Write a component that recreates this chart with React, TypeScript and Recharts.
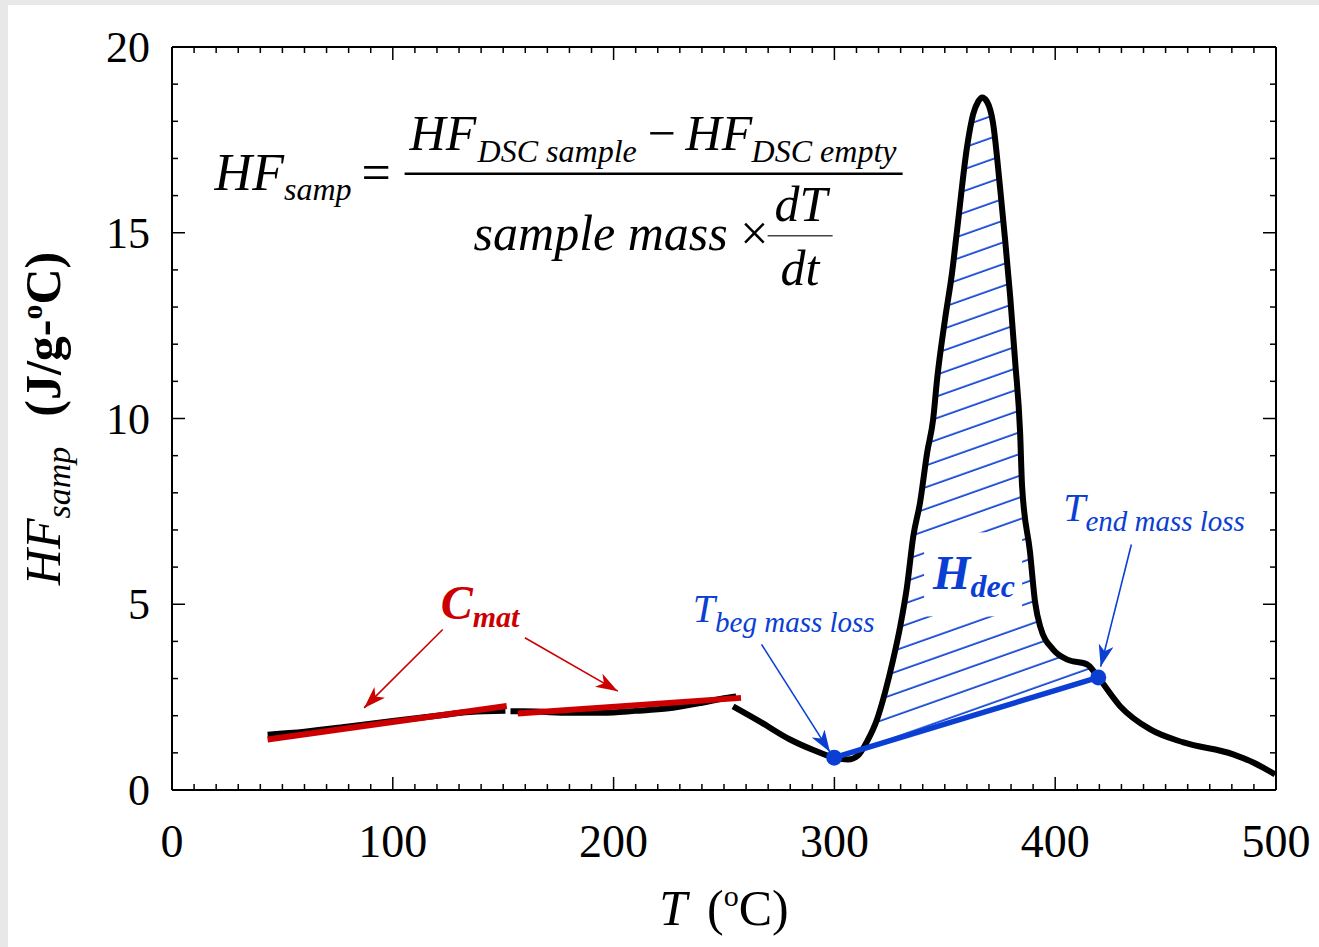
import React from 'react'
import {
  ComposedChart,
  Line,
  Area,
  XAxis,
  YAxis,
  ReferenceLine,
  ReferenceDot,
} from 'recharts'

const BLUE = '#0b3fd4'
const RED = '#cc0000'
const SERIF = '"Liberation Serif", "Times New Roman", serif'

// axis ticks (minor ones; every 100 / every 5 gets a label)
const xTicks = Array.from({ length: 51 }, (_, i) => i * 10)
const yTicks = Array.from({ length: 21 }, (_, i) => i)

// black DSC trace, first piece
const seg1T = [43.3, 60, 80, 100, 120, 135, 151]
const seg1HF = [1.49, 1.57, 1.71, 1.86, 2.0, 2.1, 2.13]

// second piece
const seg2T = [153.3, 165, 180, 195, 210, 225, 240, 250, 255.5]
const seg2HF = [2.12, 2.11, 2.08, 2.08, 2.13, 2.2, 2.35, 2.47, 2.52]

// third piece (decomposition peak)
const seg3T = [
  254.1, 266.3, 279.9, 289.9, 299.9, 306.2, 310.7, 314.8, 319.3, 322.9, 326.6, 329.8,
  332.9, 335.7, 338.8, 342.0, 344.7, 346.5, 350.1, 353.3, 355.6, 360.1, 362.8, 365.1,
  366.9, 369.1, 371.8, 375.1, 377.3, 379.6, 381.9, 384.1, 385.0, 388.6, 390.9, 393.2,
  399.1, 405.5, 414.5, 419.5, 429.5, 443.1, 458.1, 480.6, 489.7, 499.6,
]
const seg3HF = [
  2.25, 1.84, 1.36, 1.09, 0.87, 0.82, 0.93, 1.31, 1.9, 2.62, 3.51, 4.4,
  5.48, 6.82, 7.74, 9.08, 9.97, 11.05, 12.67, 13.93, 15.09, 17.32, 18.18, 18.53,
  18.64, 18.53, 17.97, 16.17, 14.82, 13.29, 11.51, 9.63, 8.18, 6.4, 5.05, 4.4,
  3.78, 3.51, 3.38, 3.03, 2.25, 1.63, 1.28, 0.96, 0.74, 0.42,
]

// red C_mat fit lines
const cmat1T = [43.3, 151.6]
const cmat1HF = [1.36, 2.26]
const cmat2T = [156.6, 257.7]
const cmat2HF = [2.06, 2.48]

// blue baseline between T_beg and T_end
const baseT = [299.9, 419.5]
const baseHF = [0.87, 3.03]

// arrows: [tailT, tailHF, headT, headHF]
const redArrows = [
  [122.6, 4.32, 87.0, 2.21],
  [159.8, 4.1, 201.9, 2.66],
]
const blueArrows = [
  [267.0, 3.92, 298.0, 1.02],
  [434.5, 6.61, 420.6, 3.32],
]

const zip = (t: number[], v: number[]) => t.map((T, i) => ({ T, HF: v[i] }))

const seg1 = zip(seg1T, seg1HF)
const seg2 = zip(seg2T, seg2HF)
const seg3 = zip(seg3T, seg3HF)
const cmat1 = zip(cmat1T, cmat1HF)
const cmat2 = zip(cmat2T, cmat2HF)
const baseline = zip(baseT, baseHF)

const baseAt = (T: number) =>
  baseHF[0] + ((T - baseT[0]) / (baseT[1] - baseT[0])) * (baseHF[1] - baseHF[0])

const hatch = seg3
  .filter((p) => p.T >= baseT[0] && p.T <= baseT[1])
  .map((p) => ({ T: p.T, range: [baseAt(p.T), p.HF] }))

const ids = { xAxisId: 'b', yAxisId: 'l' }

function Formula({ cx, cy }: any) {
  return (
    <g transform={`translate(${cx},${cy})`} fontFamily={SERIF} fill="#000">
      <text x={0} y={0} fontSize={52} fontStyle="italic">
        HF<tspan fontSize={32} dy={10}>samp</tspan>
      </text>
      <text x={147} y={0} fontSize={52}>=</text>
      <line x1={190} y1={-16} x2={688} y2={-16} stroke="#000" strokeWidth={2.5} />
      <text x={195} y={-40} fontSize={50} fontStyle="italic">HF</text>
      <text x={263} y={-28} fontSize={32} fontStyle="italic">DSC sample</text>
      <text x={433} y={-40} fontSize={50}>−</text>
      <text x={471} y={-40} fontSize={50} fontStyle="italic">HF</text>
      <text x={537} y={-28} fontSize={32} fontStyle="italic">DSC empty</text>
      <text x={259} y={60} fontSize={50} fontStyle="italic">
        sample mass <tspan fontStyle="normal">×</tspan>
      </text>
      <line x1={553} y1={46} x2={618} y2={46} stroke="#444" strokeWidth={1.5} />
      <text x={560} y={31} fontSize={50} fontStyle="italic">dT</text>
      <text x={566} y={95} fontSize={50} fontStyle="italic">dt</text>
    </g>
  )
}

function CmatLabel({ cx, cy }: any) {
  return (
    <text x={cx} y={cy} fontFamily={SERIF} fontSize={48} fontStyle="italic" fontWeight="bold" fill={RED}>
      C<tspan fontSize={30} dy={8}>mat</tspan>
    </text>
  )
}

function HdecLabel({ cx, cy }: any) {
  return (
    <g>
      <rect x={cx - 9} y={cy - 57} width={98} height={84} fill="#fff" />
      <text x={cx} y={cy} fontFamily={SERIF} fontSize={48} fontStyle="italic" fontWeight="bold" fill={BLUE}>
        H<tspan fontSize={32} dy={8}>dec</tspan>
      </text>
    </g>
  )
}

function TLabel(sub: string) {
  return ({ cx, cy }: any) => (
    <text x={cx} y={cy} fontFamily={SERIF} fontSize={40} fontStyle="italic" fill={BLUE}>
      T<tspan fontSize={29} dy={10}>{sub}</tspan>
    </text>
  )
}

const arrowShape = (marker: string, color: string) => (p: any) => (
  <line x1={p.x1} y1={p.y1} x2={p.x2} y2={p.y2} stroke={color} strokeWidth={1.6} markerEnd={`url(#${marker})`} />
)

// tick renderers: inward tick marks, labels only on the major values
const tk = { stroke: '#000', strokeWidth: 1.5 }
const isMajorX = (v: number) => v % 100 === 0
const isMajorY = (v: number) => v % 5 === 0

function BottomTick({ x, y, payload }: any) {
  const v = payload.value
  const major = isMajorX(v)
  return (
    <g>
      <line x1={x} y1={y} x2={x} y2={y - (major ? 13 : 6)} {...tk} />
      {major && (
        <text x={x} y={y + 67} textAnchor="middle" fontFamily={SERIF} fontSize={46} fill="#000">{v}</text>
      )}
    </g>
  )
}

function TopTick({ x, y, payload }: any) {
  const major = isMajorX(payload.value)
  return <line x1={x} y1={y} x2={x} y2={y + (major ? 13 : 6)} {...tk} />
}

function LeftTick({ x, y, payload }: any) {
  const v = payload.value
  const major = isMajorY(v)
  return (
    <g>
      <line x1={x} y1={y} x2={x + (major ? 13 : 6)} y2={y} {...tk} />
      {major && (
        <text x={x - 22} y={y + 15} textAnchor="end" fontFamily={SERIF} fontSize={44} fill="#000">{v}</text>
      )}
    </g>
  )
}

function RightTick({ x, y, payload }: any) {
  const major = isMajorY(payload.value)
  return <line x1={x} y1={y} x2={x - (major ? 13 : 6)} y2={y} {...tk} />
}

function XTitle(props: any) {
  const vb = props.viewBox
  return (
    <text x={vb.x + vb.width / 2} y={vb.y + 135} textAnchor="middle" fontFamily={SERIF} fontSize={50} fill="#000">
      <tspan fontStyle="italic">T</tspan>
      <tspan dx={20}>(</tspan>
      <tspan fontSize={30} dy={-19}>o</tspan>
      <tspan dy={19}>C)</tspan>
    </text>
  )
}

function YTitle(props: any) {
  const vb = props.viewBox
  return (
    <text
      transform={`translate(${vb.x - 12}, ${vb.y + vb.height / 2}) rotate(-90)`}
      textAnchor="middle"
      fontFamily={SERIF}
      fontSize={50}
      fill="#000"
    >
      <tspan fontStyle="italic">HF</tspan>
      <tspan fontStyle="italic" fontSize={34} dy={10}>samp</tspan>
      <tspan fontWeight="bold" dx={30} dy={-10}>(J/g-</tspan>
      <tspan fontWeight="bold" fontSize={30} dy={-18}>o</tspan>
      <tspan fontWeight="bold" dy={18}>C)</tspan>
    </text>
  )
}

const axisLn = { stroke: '#000', strokeWidth: 2 }

export default function App() {
  return (
    <div style={{ position: 'absolute', left: 0, top: 0, width: 1319, height: 947, background: '#e8e8e8' }}>
      <div style={{ position: 'absolute', left: 8, top: 5, width: 1311, height: 942, background: '#fff' }} />
      <div style={{ position: 'absolute', left: 0, top: 0 }}>
        <ComposedChart width={1319} height={947} margin={{ top: 46, right: 42, bottom: 47, left: 72 }}>
          <defs>
            <pattern id="hatch" patternUnits="userSpaceOnUse" width={40} height={20.5} patternTransform="rotate(-19.5)">
              <line x1={0} y1={10} x2={40} y2={10} stroke={BLUE} strokeWidth={1.7} />
            </pattern>
            <marker id="arrRed" viewBox="0 0 22 15" refX={22} refY={7.5} markerWidth={22} markerHeight={15} markerUnits="userSpaceOnUse" orient="auto">
              <path d="M0,0 L22,7.5 L0,15 L6,7.5 Z" fill={RED} />
            </marker>
            <marker id="arrBlue" viewBox="0 0 22 15" refX={22} refY={7.5} markerWidth={22} markerHeight={15} markerUnits="userSpaceOnUse" orient="auto">
              <path d="M0,0 L22,7.5 L0,15 L6,7.5 Z" fill={BLUE} />
            </marker>
          </defs>

          <XAxis xAxisId="b" orientation="bottom" dataKey="T" type="number" domain={[0, 500]} allowDataOverflow
            ticks={xTicks} interval={0} height={110} tickSize={0} tickMargin={0} tickLine={false}
            axisLine={axisLn} tick={BottomTick} label={XTitle} />
          <XAxis xAxisId="t" orientation="top" dataKey="T" type="number" domain={[0, 500]} allowDataOverflow
            ticks={xTicks} interval={0} height={1} tickSize={0} tickMargin={0} tickLine={false}
            axisLine={axisLn} tick={TopTick} />
          <YAxis yAxisId="l" orientation="left" type="number" domain={[0, 20]} allowDataOverflow
            ticks={yTicks} interval={0} width={100} tickSize={0} tickMargin={0} tickLine={false}
            axisLine={axisLn} tick={LeftTick} label={YTitle} />
          <YAxis yAxisId="r" orientation="right" type="number" domain={[0, 20]} allowDataOverflow
            ticks={yTicks} interval={0} width={1} tickSize={0} tickMargin={0} tickLine={false}
            axisLine={axisLn} tick={RightTick} />

          <Area {...ids} data={hatch} dataKey="range" type="monotone" fill="url(#hatch)" fillOpacity={1}
            stroke="none" isAnimationActive={false} />

          <Line {...ids} data={seg1} dataKey="HF" type="monotone" stroke="#000" strokeWidth={6} dot={false} isAnimationActive={false} />
          <Line {...ids} data={seg2} dataKey="HF" type="monotone" stroke="#000" strokeWidth={6} dot={false} isAnimationActive={false} />
          <Line {...ids} data={seg3} dataKey="HF" type="monotone" stroke="#000" strokeWidth={6} dot={false} isAnimationActive={false} />

          <Line {...ids} data={cmat1} dataKey="HF" type="linear" stroke={RED} strokeWidth={6} dot={false} isAnimationActive={false} />
          <Line {...ids} data={cmat2} dataKey="HF" type="linear" stroke={RED} strokeWidth={6} dot={false} isAnimationActive={false} />

          <Line {...ids} data={baseline} dataKey="HF" type="linear" stroke={BLUE} strokeWidth={5.5}
            dot={{ r: 8, fill: BLUE, stroke: BLUE, strokeWidth: 0 }} isAnimationActive={false} />

          {redArrows.map((a, i) => (
            <ReferenceLine key={'r' + i} {...ids} segment={[{ x: a[0], y: a[1] }, { x: a[2], y: a[3] }]}
              shape={arrowShape('arrRed', RED)} />
          ))}
          {blueArrows.map((a, i) => (
            <ReferenceLine key={'b' + i} {...ids} segment={[{ x: a[0], y: a[1] }, { x: a[2], y: a[3] }]}
              shape={arrowShape('arrBlue', BLUE)} />
          ))}

          <ReferenceDot {...ids} x={19.3} y={16.16} r={0} shape={Formula} />
          <ReferenceDot {...ids} x={121.7} y={4.59} r={0} shape={CmatLabel} />
          <ReferenceDot {...ids} x={344.7} y={5.4} r={0} shape={HdecLabel} />
          <ReferenceDot {...ids} x={235.9} y={4.51} r={0} shape={TLabel('beg mass loss')} />
          <ReferenceDot {...ids} x={403.6} y={7.23} r={0} shape={TLabel('end mass loss')} />
        </ComposedChart>
      </div>
    </div>
  )
}
